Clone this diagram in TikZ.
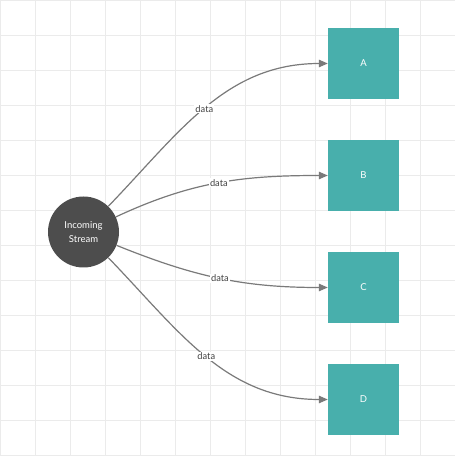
\documentclass[tikz,border=0pt]{standalone}
\usepackage{fontspec}
\setmainfont{Lato}
\usetikzlibrary{arrows.meta}
\definecolor{gridc}{HTML}{EBEBEB}
\definecolor{tealbox}{HTML}{48AFAC}
\definecolor{darkc}{HTML}{4D4D4D}
\definecolor{edgec}{HTML}{7A7A7A}
\definecolor{lblc}{HTML}{404040}
\begin{document}
\begin{tikzpicture}[x=1pt,y=1pt,
  box/.style={rectangle, fill=tealbox, minimum size=71pt, inner sep=0pt, text=white, font=\fontsize{9.5}{11}\selectfont},
  src/.style={circle, fill=darkc, minimum size=71pt, inner sep=0pt, text=white, align=center, font=\fontsize{9.5}{13.5}\selectfont},
  edge/.style={draw=edgec, line width=1.2pt, -{Triangle[length=9pt,width=7.5pt]}},
  lbl/.style={fill=white, inner sep=1pt, text=lblc, font=\fontsize{9.3}{11}\selectfont}]
\useasboundingbox (0,0) rectangle (455,456);
\fill[white] (0,0) rectangle (455,456);
\foreach \i in {0,...,13} {
  \draw[gridc, line width=0.8pt] (35*\i,0) -- (35*\i,456);
  \draw[gridc, line width=0.8pt] (0,456-35*\i) -- (455,456-35*\i);
}
\node[src] (in) at (83.5,224) {Incoming\\Stream};
\node[box] (A) at (363.5,392.5) {A};
\node[box] (B) at (363.5,280.5) {B};
\node[box] (C) at (363.5,168.5) {C};
\node[box] (D) at (363.5,56.5) {D};
\draw[edge] (in.46) to[out=46,in=180] node[lbl, pos=0.49] {data} (A.west);
\draw[edge] (in.25) to[out=25,in=180] node[lbl] {data} (B.west);
\draw[edge] (in.-22) to[out=-22,in=180] node[lbl] {data} (C.west);
\draw[edge] (in.-46) to[out=-46,in=180] node[lbl] {data} (D.west);
\end{tikzpicture}
\end{document}
